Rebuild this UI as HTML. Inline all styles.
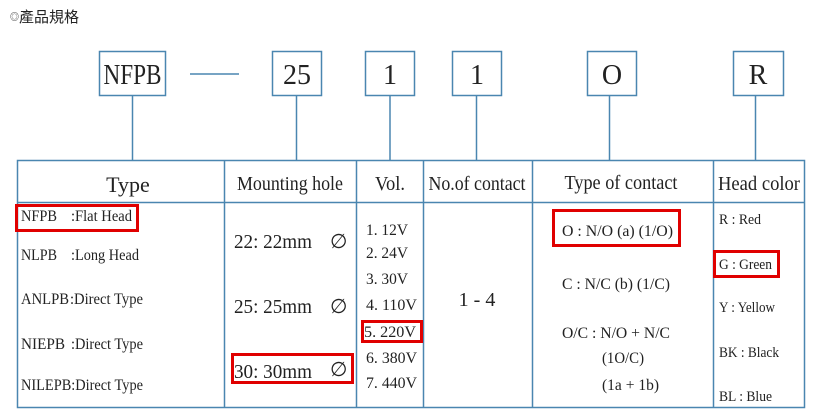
<!DOCTYPE html>
<html><head><meta charset="utf-8"><style>
html,body{margin:0;padding:0;background:#fff;width:825px;height:420px;overflow:hidden}
svg text{font-family:"Liberation Serif",serif;fill:#222}
</style></head><body>
<svg width="825" height="420" viewBox="0 0 825 420" xmlns="http://www.w3.org/2000/svg">
<text x="10" y="22" style="font-family:'Liberation Sans','Noto Sans CJK TC',sans-serif;font-size:15px" fill="#333"><tspan font-size="9" dy="-2">◎</tspan><tspan dy="2">產品規格</tspan></text>
<g stroke="#4a86b0" stroke-width="1.5" fill="none">
<rect x="99.5" y="51.5" width="66" height="44"/>
<rect x="272.5" y="51.5" width="49" height="44"/>
<rect x="365.5" y="51.5" width="49" height="44"/>
<rect x="452.5" y="51.5" width="49" height="44"/>
<rect x="587.5" y="51.5" width="49" height="44"/>
<rect x="733.5" y="51.5" width="50" height="44"/>
<line x1="190" y1="74" x2="239" y2="74"/>
<line x1="132.5" y1="95" x2="132.5" y2="160"/>
<line x1="296.5" y1="95" x2="296.5" y2="160"/>
<line x1="390" y1="95" x2="390" y2="160"/>
<line x1="476.5" y1="95" x2="476.5" y2="160"/>
<line x1="609.5" y1="95" x2="609.5" y2="160"/>
<line x1="755.5" y1="95" x2="755.5" y2="160"/>
<rect x="17.5" y="160.5" width="787" height="247"/>
<line x1="17" y1="202.5" x2="805" y2="202.5"/>
<line x1="224.5" y1="160" x2="224.5" y2="408"/>
<line x1="356.5" y1="160" x2="356.5" y2="408"/>
<line x1="423.5" y1="160" x2="423.5" y2="408"/>
<line x1="532.5" y1="160" x2="532.5" y2="408"/>
<line x1="713.5" y1="160" x2="713.5" y2="408"/>
</g>
<g font-size="28">
<text x="132.5" y="84" text-anchor="middle" textLength="58" lengthAdjust="spacingAndGlyphs">NFPB</text>
<text x="297" y="84" text-anchor="middle">25</text>
<text x="390" y="84" text-anchor="middle">1</text>
<text x="477" y="84" text-anchor="middle">1</text>
<text x="612" y="84" text-anchor="middle">O</text>
<text x="758" y="84" text-anchor="middle">R</text>
</g>
<g font-size="20" text-anchor="middle">
<text x="128" y="192" font-size="22">Type</text>
<text x="290" y="190" textLength="106" lengthAdjust="spacingAndGlyphs">Mounting hole</text>
<text x="390" y="190" textLength="30" lengthAdjust="spacingAndGlyphs">Vol.</text>
<text x="477" y="190" textLength="97" lengthAdjust="spacingAndGlyphs">No.of contact</text>
<text x="621" y="189" textLength="113" lengthAdjust="spacingAndGlyphs">Type of contact</text>
<text x="759" y="190" textLength="82" lengthAdjust="spacingAndGlyphs">Head color</text>
</g>
<g font-size="16">
<text x="21" y="221" textLength="36" lengthAdjust="spacingAndGlyphs">NFPB</text>
<text x="71" y="221" textLength="61" lengthAdjust="spacingAndGlyphs">:Flat Head</text>
<text x="21" y="260" textLength="36" lengthAdjust="spacingAndGlyphs">NLPB</text>
<text x="71" y="260" textLength="68" lengthAdjust="spacingAndGlyphs">:Long Head</text>
<text x="21" y="304" textLength="48" lengthAdjust="spacingAndGlyphs">ANLPB</text>
<text x="70" y="304" textLength="73" lengthAdjust="spacingAndGlyphs">:Direct Type</text>
<text x="21" y="349" textLength="44" lengthAdjust="spacingAndGlyphs">NIEPB</text>
<text x="71" y="349" textLength="72" lengthAdjust="spacingAndGlyphs">:Direct Type</text>
<text x="21" y="390" textLength="122" lengthAdjust="spacingAndGlyphs">NILEPB:Direct Type</text>
</g>
<g font-size="20">
<text x="234" y="248" textLength="78" lengthAdjust="spacingAndGlyphs">22: 22mm</text>
<text x="330" y="248">∅</text>
<text x="234" y="313" textLength="78" lengthAdjust="spacingAndGlyphs">25: 25mm</text>
<text x="330" y="313">∅</text>
<text x="234" y="378" textLength="78" lengthAdjust="spacingAndGlyphs">30: 30mm</text>
<text x="330" y="376">∅</text>
</g>
<g font-size="16">
<text x="366" y="235" textLength="42" lengthAdjust="spacingAndGlyphs">1. 12V</text>
<text x="366" y="258" textLength="42" lengthAdjust="spacingAndGlyphs">2. 24V</text>
<text x="366" y="284" textLength="42" lengthAdjust="spacingAndGlyphs">3. 30V</text>
<text x="366" y="310" textLength="51" lengthAdjust="spacingAndGlyphs">4. 110V</text>
<text x="364" y="337" textLength="52" lengthAdjust="spacingAndGlyphs">5. 220V</text>
<text x="366" y="363" textLength="51" lengthAdjust="spacingAndGlyphs">6. 380V</text>
<text x="366" y="388" textLength="51" lengthAdjust="spacingAndGlyphs">7. 440V</text>
<text x="477" y="306" text-anchor="middle" font-size="20">1 - 4</text>
<text x="562" y="236" textLength="111" lengthAdjust="spacingAndGlyphs">O : N/O (a) (1/O)</text>
<text x="562" y="289" textLength="108" lengthAdjust="spacingAndGlyphs">C : N/C (b) (1/C)</text>
<text x="562" y="338" textLength="108" lengthAdjust="spacingAndGlyphs">O/C : N/O + N/C</text>
<text x="602" y="363" textLength="42" lengthAdjust="spacingAndGlyphs">(1O/C)</text>
<text x="602" y="390" textLength="57" lengthAdjust="spacingAndGlyphs">(1a + 1b)</text>
</g>
<g font-size="15">
<text x="719" y="224" textLength="42" lengthAdjust="spacingAndGlyphs">R : Red</text>
<text x="719" y="269" textLength="53" lengthAdjust="spacingAndGlyphs">G : Green</text>
<text x="719" y="312" textLength="56" lengthAdjust="spacingAndGlyphs">Y : Yellow</text>
<text x="719" y="357" textLength="60" lengthAdjust="spacingAndGlyphs">BK : Black</text>
<text x="719" y="401" textLength="53" lengthAdjust="spacingAndGlyphs">BL : Blue</text>
</g>
<g stroke="#e00000" stroke-width="3" fill="none">
<rect x="16.5" y="205.5" width="121" height="25"/>
<rect x="232.5" y="354.5" width="120" height="28"/>
<rect x="362.5" y="321.5" width="59" height="20"/>
<rect x="553.5" y="210.5" width="126" height="35"/>
<rect x="714.5" y="251.5" width="64" height="25"/>
</g>
</svg>
</body></html>
